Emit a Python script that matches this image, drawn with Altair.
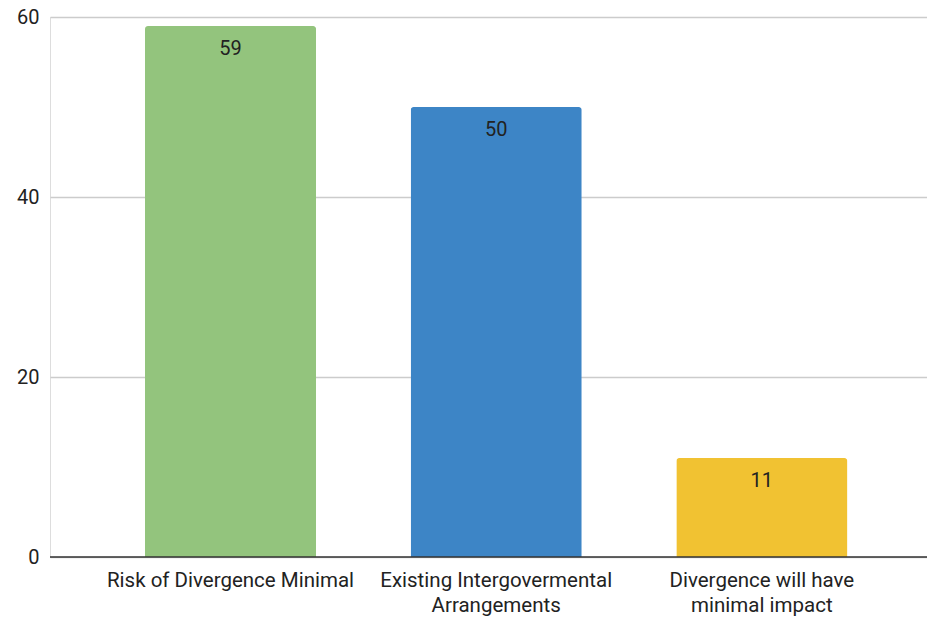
import altair as alt
import pandas as pd

categories = ["Risk of Divergence Minimal", "Existing Intergovermental Arrangements", "Divergence will have minimal impact"]
label_lines = [["Risk of Divergence Minimal"], ["Existing Intergovermental", "Arrangements"], ["Divergence will have", "minimal impact"]]
values = [59, 50, 11]
colors = ["#93c47d", "#3d85c6", "#f1c232"]

df = pd.DataFrame({"category": categories, "value": values})

expr_parts = []
for c, lines in zip(categories, label_lines):
    arr = "[" + ",".join("'" + l + "'" for l in lines) + "]"
    expr_parts.append(f"datum.label == '{c}' ? {arr} : ")
label_expr = "".join(expr_parts) + "datum.label"

FONT = "Roboto"

x = alt.X("category:N", sort=categories, title=None,
          scale=alt.Scale(paddingInner=0.356, paddingOuter=0.3286, align=0.544),
          axis=alt.Axis(labelAngle=0, labelExpr=label_expr, labelFontSize=20.5, labelColor="#222",
                        labelFont=FONT, labelPadding=13, labelLineHeight=25, ticks=False,
                        domain=False, grid=False, labelLimit=400))
y = alt.Y("value:Q", title=None,
          scale=alt.Scale(domain=[0, 60], nice=False),
          axis=alt.Axis(values=[0, 20, 40, 60], labelFontSize=20, labelColor="#222", labelFont=FONT,
                        labelPadding=11, ticks=False, domain=False, gridColor="#cccccc", gridWidth=1.3))

base = alt.Chart(df)
bars = base.mark_bar(cornerRadiusTopLeft=3, cornerRadiusTopRight=3).encode(
    x=x, y=y,
    color=alt.Color("category:N", sort=categories, scale=alt.Scale(domain=categories, range=colors), legend=None),
)
texts = base.mark_text(baseline="top", dy=13, fontSize=20, font=FONT, color="#222").encode(
    x=alt.X("category:N", sort=categories), y="value:Q", text="value:Q")
baseline = alt.Chart(pd.DataFrame({"v": [0]})).mark_rule(color="#333", strokeWidth=1.6).encode(y="v:Q")

chart = alt.layer(bars, texts, baseline).properties(
    width=877, height=540,
    autosize=alt.AutoSizeParams(type="none"),
    padding={"left": 50, "top": 17, "right": 0, "bottom": 65},
).configure_view(stroke=None).configure(background="white")

chart.save("out.html", embed_options={"renderer": "svg", "actions": False})
